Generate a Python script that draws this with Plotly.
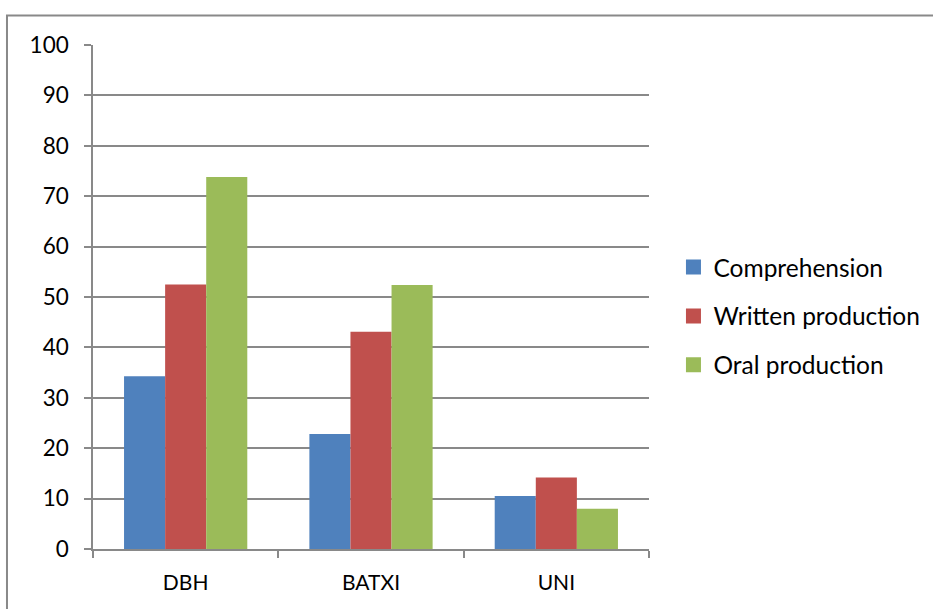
import plotly.graph_objects as go

categories = ["DBH", "BATXI", "UNI"]
comprehension = [34.3, 22.8, 10.5]
written_production = [52.5, 43.1, 14.2]
oral_production = [73.8, 52.4, 8.0]
y_ticks = [0, 10, 20, 30, 40, 50, 60, 70, 80, 90, 100]

series = [
    ("Comprehension", comprehension, "#4F81BD"),
    ("Written production", written_production, "#C0504D"),
    ("Oral production", oral_production, "#9BBB59"),
]

FONT = "Lato, 'Open Sans', sans-serif"
GRID = "#898989"

fig = go.Figure()
for i, (name, vals, color) in enumerate(series):
    fig.add_trace(go.Bar(
        x=categories, y=vals, name=name, showlegend=False,
        marker=dict(color=color, line=dict(width=0)),
    ))
# square legend keys
for i, (name, vals, color) in enumerate(series):
    fig.add_trace(go.Scatter(
        x=[None], y=[None], mode="markers", name=name, legendgroup=f"g{i}",
        marker=dict(symbol="square", size=15, color=color),
    ))

fig.update_layout(
    width=933, height=609,
    margin=dict(l=93, r=284, t=45, b=60, autoexpand=False),
    paper_bgcolor="white", plot_bgcolor="white",
    barmode="group", bargap=0.335, bargroupgap=0,
    font=dict(family=FONT, size=21, color="#000000"),
    showlegend=True,
    legend=dict(
        x=1.044, xanchor="left", y=0.462, yanchor="middle",
        traceorder="grouped", tracegroupgap=14,
        font=dict(family=FONT, size=24.5, color="#000000"),
        itemwidth=30, bgcolor="rgba(0,0,0,0)",
    ),
    xaxis=dict(
        type="category", showgrid=False,
        showline=True, linecolor=GRID, linewidth=1.5,
        ticks="outside", tickson="boundaries", ticklen=7,
        tickcolor=GRID, tickwidth=1.5,
        tickfont=dict(family=FONT, size=21),
        ticklabelstandoff=14,
    ),
    yaxis=dict(
        range=[0, 100], tickvals=y_ticks,
        showgrid=True, gridcolor=GRID, gridwidth=1.5,
        showline=True, linecolor=GRID, linewidth=1.5,
        ticks="outside", ticklen=7, tickcolor=GRID, tickwidth=1.5,
        tickfont=dict(family=FONT, size=22.5),
        zeroline=False, ticklabelstandoff=11,
    ),
)

# outer chart frame
fig.add_shape(
    type="rect", xref="paper", yref="paper",
    x0=-0.1547, x1=1.53, y0=-0.2, y1=1.0585,
    line=dict(color=GRID, width=2), fillcolor="rgba(0,0,0,0)", layer="below",
)

fig.write_html("out.html")
